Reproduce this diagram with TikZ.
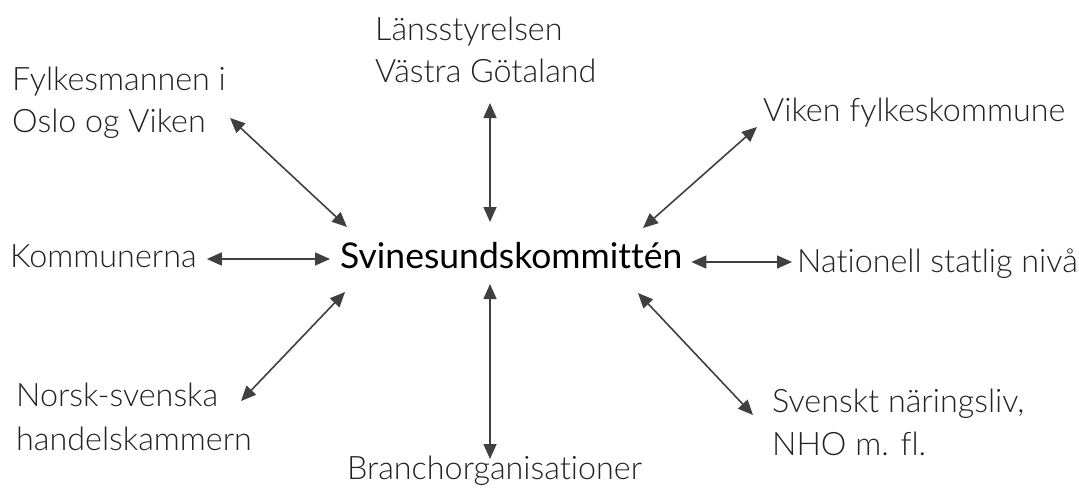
\documentclass[tikz,border=0pt]{standalone}
\usepackage{fontspec}
\setmainfont[Ligatures = NoCommon]{Lato Light}
\newfontfamily\hubfont[Ligatures = NoCommon]{Lato}
\usetikzlibrary{arrows.meta}

\definecolor{arrowgray}{HTML}{404040}
\definecolor{textgray}{HTML}{222222}

\tikzset{
	label/.style = {inner sep = 0pt, anchor = base west, align = left, text = textgray,
		font = \fontsize{32.3}{42}\selectfont},
	hub/.style = {inner sep = 0pt, anchor = base west, text = black,
		font = \hubfont\fontsize{35.5}{42}\selectfont},
	link/.style = {arrowgray, line width = 1.6pt,
		{Triangle[length = 15pt, width = 13pt]}-{Triangle[length = 15pt, width = 13pt]}}
}

\begin{document}
\begin{tikzpicture}[x = 1pt, y = -1pt]
	 \useasboundingbox (0, 0) rectangle (1079, 488);

	 \node[hub] (hub) at (340, 268) {Svinesundskommittén};

	 % two-line labels sit on their last baseline
	 \node[label] (fylke) at (12, 132) {Fylkesmannen i\\Oslo og Viken};
	 \node[label] (lans) at (375, 82) {Länsstyrelsen\\Västra Götaland};
	 \node[label] (viken) at (763, 121) {Viken fylkeskommune};
	 \node[label] (komm) at (10, 267) {Kommunerna};
	 \node[label] (nat) at (797, 272) {Nationell statlig nivå};
	 \node[label] (norsk) at (16, 450) {Norsk-svenska\\[2pt]handelskammern};
	 \node[label] (branch) at (347, 479) {Branchorganisationer};
	 \node[label] (svensk) at (772, 455) {Svenskt näringsliv,\\[1pt]NHO m. fl.};

	 % arrow ends
	 \coordinate (fylke-end) at (230, 118);
	 \coordinate (hub-nw) at (347, 227);
	 \coordinate (lans-end) at (490, 103);
	 \coordinate (hub-n) at (490, 222);
	 \coordinate (viken-end) at (757, 127);
	 \coordinate (hub-ne) at (643, 228);
	 \coordinate (norsk-end) at (241, 401);
	 \coordinate (hub-sw) at (345, 292);
	 \coordinate (branch-end) at (490, 459);
	 \coordinate (hub-s) at (490, 284);
	 \coordinate (svensk-end) at (753, 415);
	 \coordinate (hub-se) at (638, 293);

	 \draw[link] (fylke-end) -- (hub-nw);
	 \draw[link] (lans-end) -- (hub-n);
	 \draw[link] (viken-end) -- (hub-ne);
	 \draw[link, shorten < = 10pt, shorten > = 10pt] (komm.east |- 0, 259) -- (hub.west |- 0, 259);
	 \draw[link, shorten < = 9pt, shorten > = 5pt] (hub.east |- 0, 262) -- (nat.west |- 0, 262);
	 \draw[link] (norsk-end) -- (hub-sw);
	 \draw[link] (branch-end) -- (hub-s);
	 \draw[link] (svensk-end) -- (hub-se);
\end{tikzpicture}
\end{document}
